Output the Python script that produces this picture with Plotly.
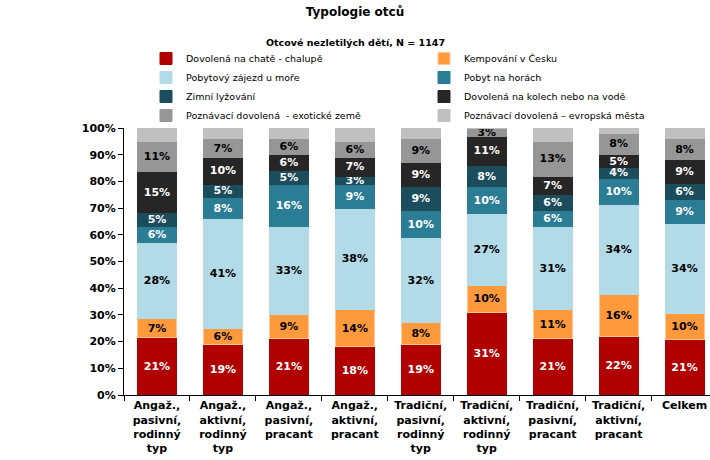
import plotly.graph_objects as go

categories = [
    "Angaž.,<br>pasivní,<br>rodinný<br>typ",
    "Angaž.,<br>aktivní,<br>rodinný<br>typ",
    "Angaž.,<br>pasivní,<br>pracant",
    "Angaž.,<br>aktivní,<br>pracant",
    "Tradiční,<br>pasivní,<br>rodinný<br>typ",
    "Tradiční,<br>aktivní,<br>rodinný<br>typ",
    "Tradiční,<br>pasivní,<br>pracant",
    "Tradiční,<br>aktivní,<br>pracant",
    "Celkem",
]

series_names = [
    "Dovolená na chatě - chalupě",
    "Kempování v Česku",
    "Pobytový zájezd u moře",
    "Pobyt na horách",
    "Zimní lyžování",
    "Dovolená na kolech nebo na vodě",
    "Poznávací dovolená  - exotické země",
    "Poznávací dovolená – evropská města",
]

chata = [21, 19, 21, 18, 19, 31, 21, 22, 21]
kemp = [7, 6, 9, 14, 8, 10, 11, 16, 10]
more = [28, 41, 33, 38, 32, 27, 31, 34, 34]
hory = [6, 8, 16, 9, 10, 10, 6, 10, 9]
lyze = [5, 5, 5, 3, 9, 8, 6, 4, 6]
kola = [15, 10, 6, 7, 9, 11, 7, 5, 9]
exot = [11, 7, 6, 6, 9, 3, 13, 8, 8]
evropa = [5, 4, 4, 5, 4, 0, 5, 2, 4]  # unlabeled segment, estimated

series_values = [chata, kemp, more, hory, lyze, kola, exot, evropa]
colors = ["#B00000", "#FF9A3C", "#B2DAE7", "#2A7D95", "#1B4D5C", "#262626", "#969696", "#C0C0C0"]
text_colors = ["white", "black", "black", "white", "white", "white", "black", "black"]
show_labels = [True, True, True, True, True, True, True, False]
line_colors = ["#B00000", "#FFC890", "#B2DAE7", "#2A7D95", "#1B4D5C", "#262626", "#969696", "#C0C0C0"]

FONT = "DejaVu Sans"

fig = go.Figure()
for name, vals, col, tcol, show, lcol in zip(series_names, series_values, colors, text_colors, show_labels, line_colors):
    fig.add_trace(go.Bar(
        name=name,
        x=categories,
        y=vals,
        marker=dict(color=col, line=dict(color=lcol, width=1)),
        text=[f"{v}%" for v in vals] if show else None,
        textposition="inside" if show else "none",
        insidetextanchor="middle",
        textangle=0,
        textfont=dict(family=FONT, size=11, color=tcol, weight="bold"),
        width=0.59,
    ))

fig.update_layout(
    barmode="stack",
    barnorm="percent",
    width=710,
    height=460,
    margin=dict(l=124, r=0, t=128, b=65, autoexpand=False),
    paper_bgcolor="white",
    plot_bgcolor="white",
    font=dict(family=FONT, size=10, color="black"),
    uniformtext=dict(minsize=11, mode="show"),
    title=dict(
        text="<b>Typologie otců</b>",
        x=0.5, xref="container", xanchor="center",
        y=1 - 12 / 460, yref="container", yanchor="middle",
        font=dict(family=FONT, size=12, color="black"),
    ),
    annotations=[dict(
        text="<b>Otcové nezletilých dětí, N = 1147</b>",
        x=(355 - 124) / 586, xref="paper", xanchor="center",
        y=(395 - 42) / 267, yref="paper", yanchor="middle",
        showarrow=False,
        font=dict(family=FONT, size=9.5, color="black"),
    )],
    legend=dict(
        orientation="h",
        traceorder="normal",
        x=146 / 710, xref="container", xanchor="left",
        y=(460 - 44) / 460, yref="container", yanchor="top",
        entrywidth=233, entrywidthmode="pixels",
        font=dict(family=FONT, size=9.5, color="black"),
        itemwidth=30,
        bgcolor="rgba(0,0,0,0)",
    ),
    xaxis=dict(
        range=[-0.5, 8.386],
        automargin=False,
        showline=True, linecolor="black", linewidth=1,
        ticks="outside", ticklen=5, tickcolor="black",
        tickson="boundaries",
        tickfont=dict(family=FONT, size=11, color="black", weight="bold"),
        showgrid=False,
    ),
    yaxis=dict(
        range=[0, 100],
        automargin=False,
        dtick=10,
        ticksuffix="%",
        showline=True, linecolor="black", linewidth=1,
        ticks="outside", ticklen=5, tickcolor="black",
        tickfont=dict(family=FONT, size=11, color="black", weight="bold"),
        showgrid=False,
        zeroline=False,
    ),
    showlegend=True,
)

fig.write_html(
    "out.html",
    config={"displayModeBar": False},
    post_script="document.body.style.margin='0';document.body.style.padding='0';document.body.style.overflow='hidden';",
)
